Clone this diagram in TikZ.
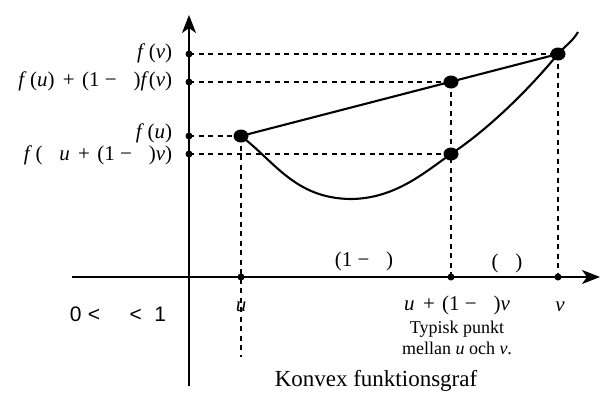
\documentclass[tikz,border=0pt]{standalone}
\usepackage{fontspec}
\setmainfont{Liberation Serif}
\setsansfont{Liberation Sans}
\usetikzlibrary{positioning,arrows.meta,shapes.geometric}

\newcommand{\mi}[1]{\textit{#1}}
\newcommand{\lgap}{\hspace{.8em}}
\newcommand{\omin}{(1\hspace{.25em}−\lgap)}
\newcommand{\tplus}{\hspace{.4em}+\hspace{.35em}}

\begin{document}
\begin{tikzpicture}[x=1pt,y=-1pt,
  every node/.style={inner sep=0pt,font=\fontsize{21}{25}\selectfont},
  lab/.style={text height=12.5pt,text depth=4pt},
  axis/.style={line width=2.2pt,-{Stealth[length=18pt,width=14pt,inset=5pt]}},
  graph/.style={line width=2.1pt},
  guide/.style={line width=2pt,dash pattern=on 5pt off 4.5pt},
  tick/.style={circle,fill,minimum size=7pt},
  spot/.style={ellipse,fill,minimum width=15pt,minimum height=13pt},
  note/.style={font=\fontsize{18}{21}\selectfont,align=center}]
\useasboundingbox (0,0) rectangle (601,394);
% punkter
\coordinate (pu) at (241,136);
\coordinate (pm) at (451,82);
\coordinate (pc) at (451,154);
\coordinate (pv) at (558,54);
\coordinate (lo) at (350,199);
\coordinate (end) at (578,32);
\coordinate (ax) at (189,277);
\coordinate (xl) at (72,277);
\coordinate (xr) at (600,277);
\coordinate (yb) at (189,386);
\coordinate (yt) at (189,15);
\coordinate (ub) at (241,357);
% streckade hjälplinjer
\draw[guide] (ax |- pv) -- (pv); \draw[guide] (ax |- pm) -- (pm);
\draw[guide] (ax |- pu) -- (pu); \draw[guide] (ax |- pc) -- (pc);
\draw[guide] (pu) -- (ub); \draw[guide] (pm) -- (pm |- ax);
\draw[guide] (pv) -- (pv |- ax);
% axlar
\draw[axis] (xl) -- (xr);
\draw[axis] (yb) -- (yt);
% graf och korda
\draw[graph] (pu) .. controls (275,162) and (295,198) .. (lo) .. controls (395,199) and (425,172) .. (pc) .. controls (490,128) and (530,88) .. (pv) .. controls (566,45) and (572,42) .. (end);
\draw[graph] (pu) -- (pv);
\node[spot] (A) at (pu) {}; \node[spot] (B) at (pm) {};
\node[spot] (C) at (pc) {}; \node[spot] (D) at (pv) {};
% markeringar på axlarna
\node[tick] (tv) at (ax |- pv) {}; \node[tick] (tm) at (ax |- pm) {};
\node[tick] (tu) at (ax |- pu) {}; \node[tick] (tc) at (ax |- pc) {};
\node[tick] (xu) at (pu |- ax) {}; \node[tick] (xm) at (pm |- ax) {};
\node[tick] (xv) at (pv |- ax) {};
% texter
\node (fv) [lab,left=13pt of tv] {\mi{f}\,(\mi{v})};
\node (fm) [lab,left=13pt of tm] {\mi{f}\,(\mi{u})\tplus\omin\mi{f}(\mi{v})};
\node (fu) [lab,left=13pt of tu,yshift=1.5pt] {\mi{f}\,(\mi{u})};
\node (fc) [lab,left=13pt of tc,yshift=-2pt] {\mi{f}\,(\lgap\mi{u}\tplus\omin\mi{v})};
\node (lu) [below=21pt of xu] {\mi{u}};
\node (lm) [lab,below=17pt of xm,xshift=6pt] {\mi{u}\tplus\omin\mi{v}};
\node (lv) [below=21pt of xv,xshift=2pt] {\mi{v}};
\node (typ) [note,below=6pt of lm] {Typisk punkt\\mellan \mi{u} och \mi{v}.};
\node (w1) [lab] at (364,262) {\omin};
\node (w2) [lab] at (507,264) {(\lgap)};
\node (cond) at (118,314) {\sffamily 0\hspace{.3em}<\hspace{1.4em}<\hspace{.6em}1};
\node (cap) [font=\fontsize{23}{26}\selectfont] at (376,381) {Konvex funktionsgraf};
\end{tikzpicture}
\end{document}
